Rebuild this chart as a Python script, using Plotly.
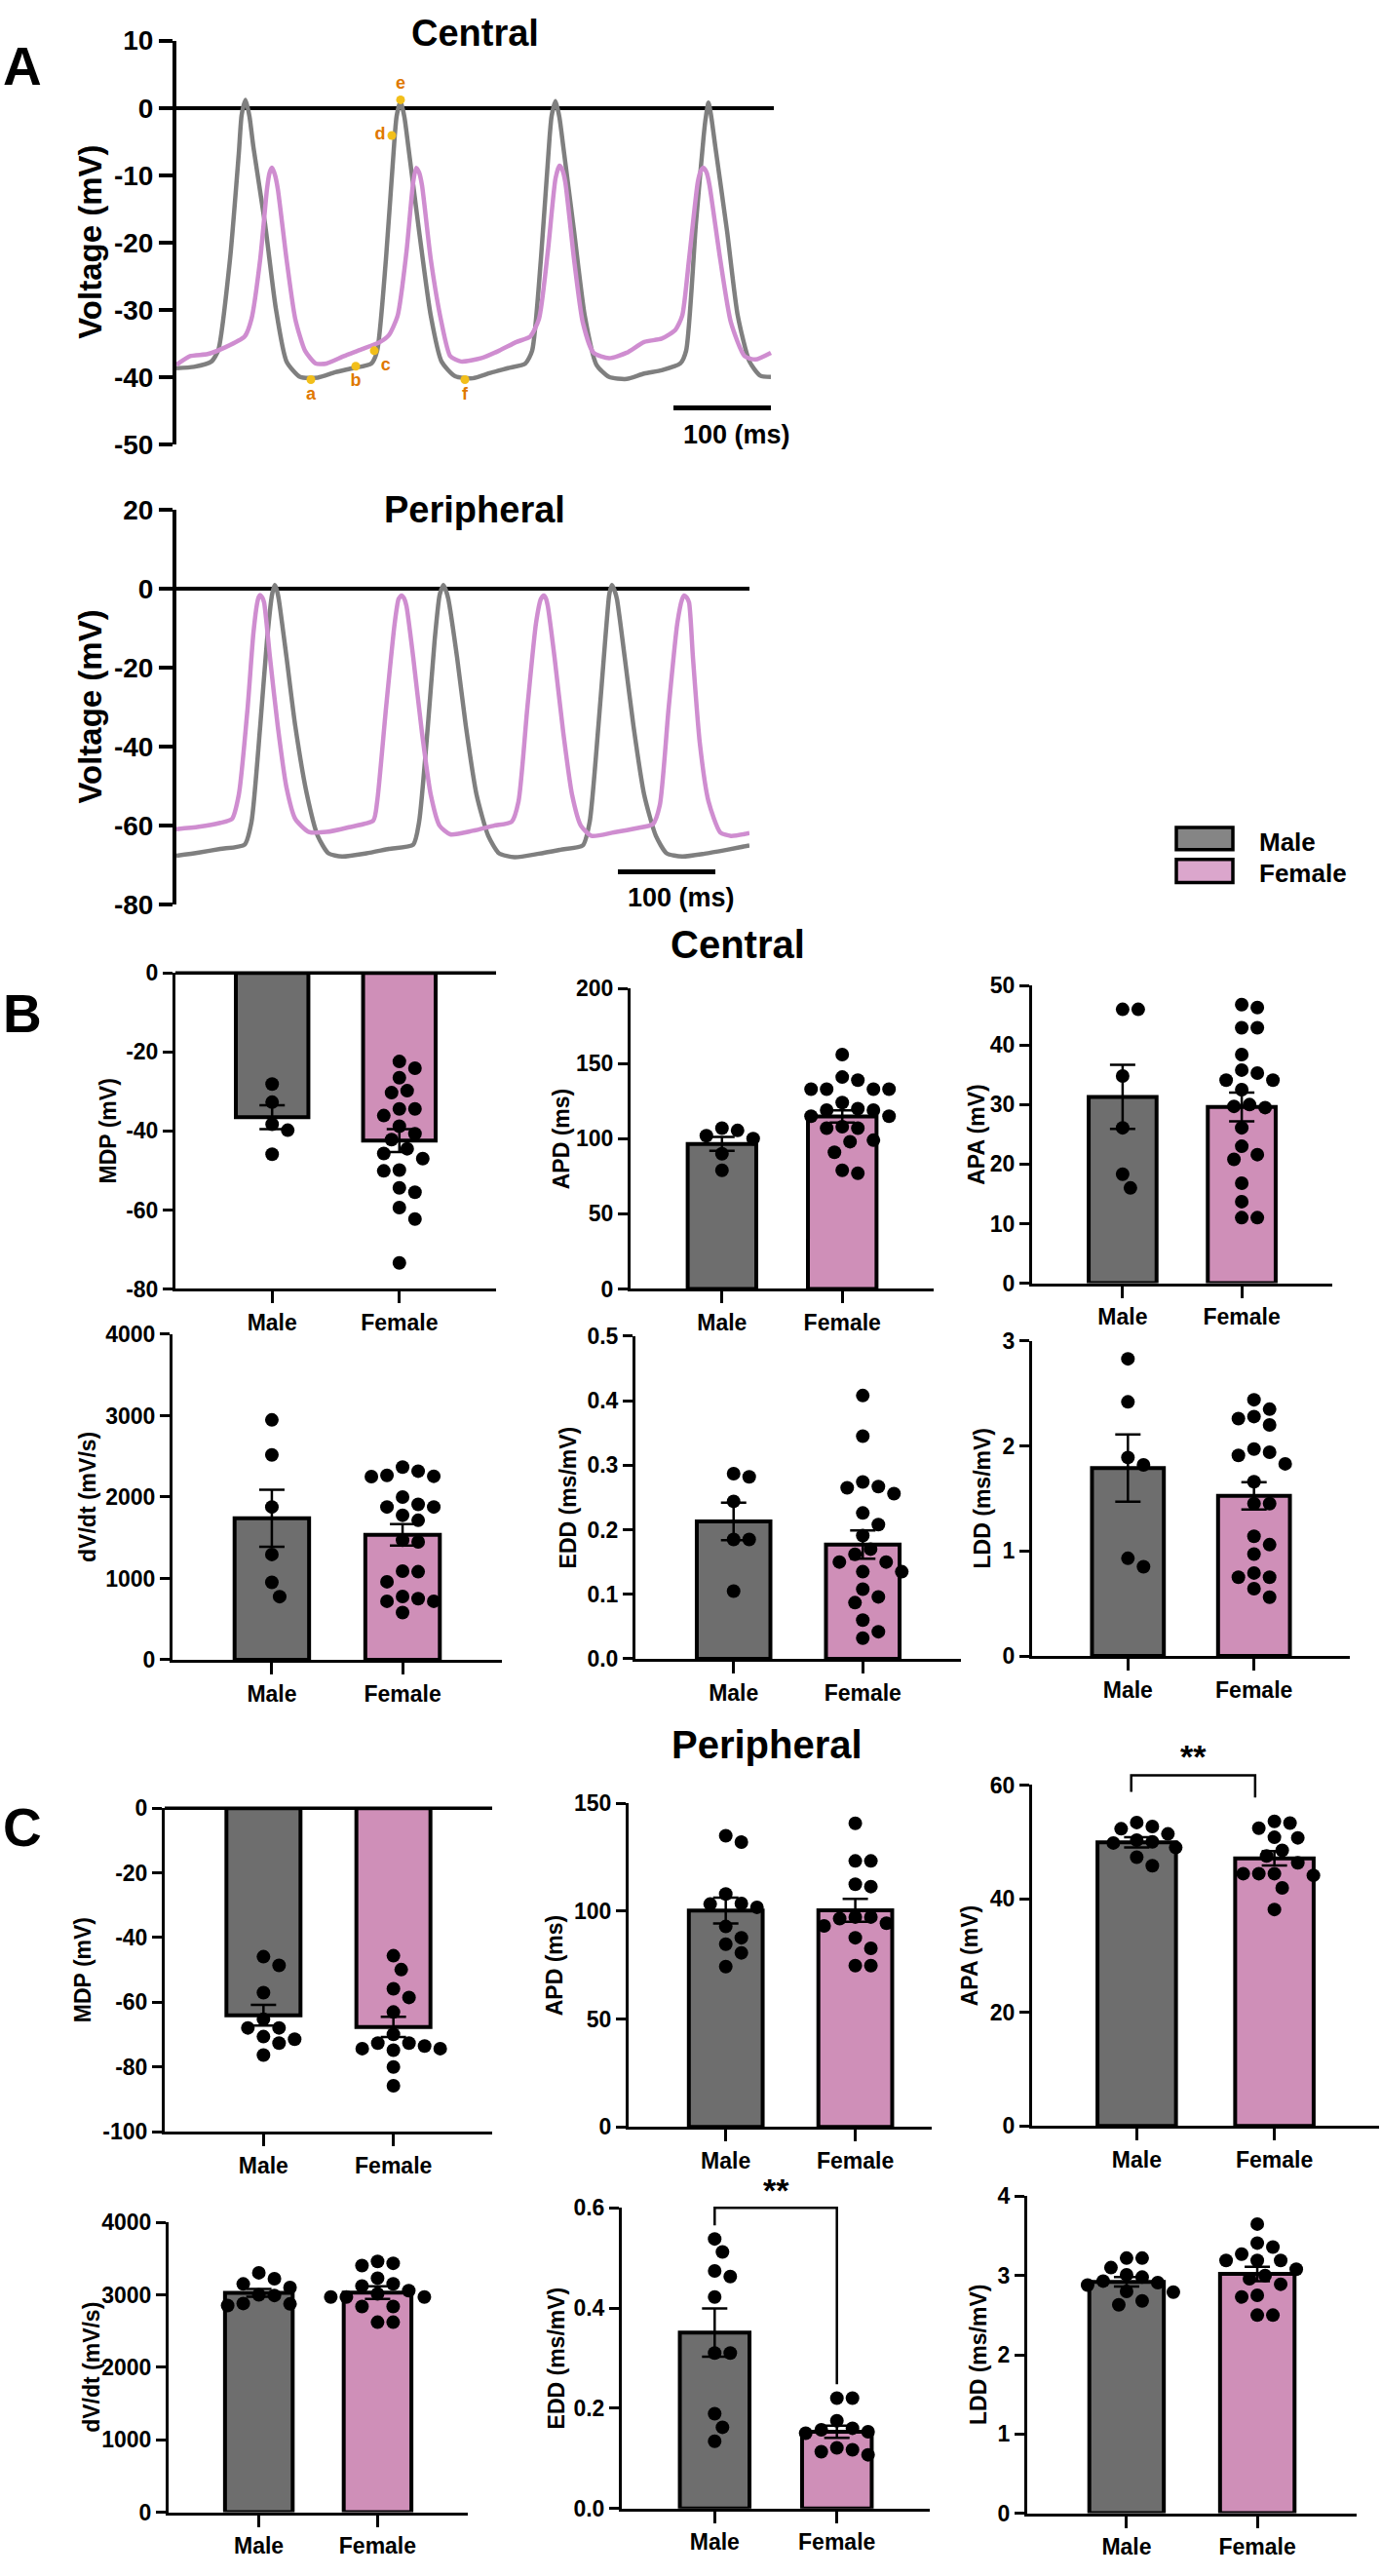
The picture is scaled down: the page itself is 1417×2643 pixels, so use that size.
import plotly.graph_objects as go

W, H = 1417, 2643
FONT = "Liberation Sans, Arial, Helvetica, sans-serif"

MALE_BAR = "#6e6e6e"
FEMALE_BAR = "#cf8fb8"
MALE_TRACE = "#7f7f7f"
FEMALE_TRACE = "#cf8dd0"
MARK_DOT = "#f2bf1b"
MARK_TEXT = "#e07800"

groups = ["Male", "Female"]

# ---- Panel A: representative action potentials (time in ms, voltage in mV) ----
central_male_t = [0, 18, 36, 43, 55, 64, 67, 71, 75, 79, 91, 102, 113, 127, 145, 163, 181, 200, 206, 215,
                  224, 226, 230, 234, 238, 249, 261, 272, 286, 304, 322, 340, 358, 365, 374, 383, 385, 389, 393, 397,
                  408, 419, 431, 444, 462, 480, 498, 517, 523, 533, 541, 543, 546, 549, 553, 565, 576, 588, 599, 610]
central_male_v = [-38.7, -38.5, -37.7, -36.0, -22.5, -6.8, -1.0, 1.2, -1.3, -5.8, -17.3, -29.8, -37.7, -40.0, -40.1,
                  -39.3, -38.7, -38.0, -36.1, -22.5, -4.2, -1.2, 1.0, -1.4, -5.8, -18.3, -30.9, -37.7, -39.9, -40.2,
                  -39.4, -38.7, -38.0, -36.1, -22.5, -4.2, -1.2, 1.0, -1.4, -5.8, -18.3, -30.9, -38.2, -40.0, -40.3,
                  -39.5, -39.0, -38.0, -36.1, -17.3, -4.2, -1.6, 0.8, -1.5, -5.8, -18.3, -30.9, -37.7, -39.8, -40.0]
central_female_t = [0, 14, 32, 50, 70, 77, 86, 93, 95.5, 98, 101, 104, 113, 122, 132, 143, 154, 172, 190, 209,
                    218, 227, 236, 243, 246, 249, 252, 261, 272, 281, 292, 313, 331, 349, 363, 372, 381, 389, 393, 396,
                    399, 408, 417, 428, 444, 462, 480, 498, 512, 519, 526, 535, 538, 541, 544, 547, 558, 569, 583, 594,
                    610]
central_female_v = [-38.2, -36.9, -36.6, -35.6, -34.0, -31.4, -22.5, -12.0, -9.7, -8.9, -9.9, -12.0, -22.5, -31.4,
                    -36.1, -38.0, -38.0, -36.9, -35.9, -34.8, -33.8, -30.9, -21.5, -11.0, -8.9, -9.6, -11.5, -22.5,
                    -31.9, -36.9, -37.7, -37.2, -36.1, -34.8, -34.0, -31.4, -21.5, -10.5, -8.6, -9.2, -11.0, -22.5,
                    -31.9, -36.4, -37.2, -36.4, -34.8, -34.3, -33.0, -30.9, -22.5, -11.0, -9.4, -8.9, -9.6, -11.5,
                    -22.5, -31.9, -36.9, -37.4, -36.4]

peripheral_male_t = [0, 23, 45, 70, 77, 86, 93, 98, 99.5, 101, 103, 105, 113, 122, 134, 145, 156, 170, 195, 218,
                     243, 249, 258, 265, 270, 272, 274, 276.5, 279, 288, 297, 308, 320, 331, 347, 372, 394, 417, 424,
                     433, 440, 444, 445.5, 447, 449.5, 452, 460, 469, 480, 492, 503, 519, 542, 565, 588]
peripheral_male_v = [-67.6, -66.8, -65.9, -64.8, -59.1, -34.8, -13.0, -1.7, -0.1, 0.9, -0.3, -2.6, -17.4, -34.8,
                     -52.2, -62.6, -67.0, -67.8, -67.0, -65.9, -64.8, -59.1, -34.8, -13.0, -1.7, -0.1, 0.9, -0.4,
                     -2.6, -17.4, -34.8, -52.2, -62.6, -67.0, -68.0, -67.1, -66.1, -65.0, -59.1, -34.8, -13.0, -1.7,
                     0.0, 0.9, -0.4, -2.6, -17.4, -34.8, -52.2, -62.6, -67.0, -67.8, -67.1, -66.1, -65.0]
peripheral_female_t = [0, 23, 45, 57, 64, 73, 79, 83, 84.5, 86, 88, 90, 96, 104, 113, 122, 136, 154, 177, 202,
                       206, 215, 224, 228, 231, 233.5, 236, 243, 252, 261, 270, 281, 304, 326, 344, 351, 360, 369, 374,
                       377, 379, 381, 388, 397, 406, 415, 426, 449, 471, 489, 496, 505, 514, 519, 521, 523.5, 526, 530,
                       537, 546, 558, 569, 588]
peripheral_female_v = [-60.9, -60.3, -59.3, -58.3, -52.2, -30.4, -11.3, -3.5, -2.1, -1.6, -2.2, -3.5, -17.4, -34.8,
                       -50.4, -58.3, -61.6, -61.6, -60.4, -58.7, -53.9, -30.4, -8.7, -2.6, -1.7, -2.4, -4.3, -17.4,
                       -36.5, -52.2, -60.0, -62.2, -61.3, -60.0, -59.0, -53.9, -30.4, -8.7, -2.6, -1.7, -2.4, -4.3,
                       -17.4, -36.5, -52.2, -60.0, -62.6, -61.7, -60.7, -59.6, -54.8, -30.4, -8.7, -2.6, -1.7, -2.2,
                       -3.5, -17.4, -39.0, -53.9, -61.7, -62.6, -61.9]

# labelled points on the central male trace
mark_labels = ["a", "b", "c", "d", "e", "f"]
mark_t = [138, 184, 203, 221, 230, 296]
mark_v = [-40.4, -38.4, -36.1, -4.1, 1.2, -40.4]
mark_pos = ["bottom center", "bottom center", "bottom right", "middle left", "top center", "bottom center"]

# ---- Panel B: central ----
b_mdp_male = [-28.1, -32.7, -38.3, -39.8, -45.9]
b_mdp_female = [-22.4, -24.1, -26.5, -29.8, -30.3, -34.4, -34.4, -36.1, -38.8, -40.7, -42.2, -44.5, -45.7, -47.0,
                -49.9, -50.1, -54.4, -55.5, -59.4, -62.3, -73.4]
b_mdp_mean = [-36.5, -42.4]
b_mdp_sem = [3.0, 2.9]

b_apd_male = [102, 107, 100, 105.5, 90, 79]
b_apd_female = [156, 141, 139, 133, 133, 133, 133, 124, 120, 119, 119, 115, 115, 108, 107, 107, 99, 98, 91, 79, 77]
b_apd_mean = [96.5, 114.8]
b_apd_sem = [4.6, 4.1]

b_apa_male = [46.0, 46.0, 34.8, 26.1, 18.3, 16.0]
b_apa_female = [46.3, 46.8, 42.9, 42.9, 38.4, 35.3, 35.8, 34.1, 34.1, 32.5, 30.0, 29.7, 29.5, 26.1, 23.0, 21.6, 20.8,
                16.8, 13.7, 11.0, 11.0]
b_apa_mean = [31.3, 29.6]
b_apa_sem = [5.4, 2.4]

b_dvdt_male = [2947, 2518, 1878, 1294, 951, 776]
b_dvdt_female = [2367, 2318, 2265, 2255, 2250, 2000, 1910, 1878, 1878, 1776, 1714, 1469, 1449, 1090, 1082, 959, 778,
                 751, 719, 719, 581]
b_dvdt_mean = [1740, 1535]
b_dvdt_sem = [350, 132]

b_edd_male = [0.282, 0.287, 0.244, 0.185, 0.185, 0.105]
b_edd_female = [0.408, 0.345, 0.274, 0.267, 0.265, 0.256, 0.226, 0.208, 0.191, 0.170, 0.162, 0.150, 0.150, 0.135,
                0.135, 0.108, 0.096, 0.087, 0.060, 0.042, 0.032]
b_edd_mean = [0.213, 0.177]
b_edd_sem = [0.029, 0.022]

b_ldd_male = [2.83, 2.42, 1.82, 1.89, 0.93, 0.85]
b_ldd_female = [2.44, 2.35, 2.28, 2.26, 2.20, 1.97, 1.94, 1.91, 1.83, 1.66, 1.45, 1.45, 1.14, 1.06, 0.97, 0.79, 0.75,
                0.75, 0.64, 0.56]
b_ldd_mean = [1.79, 1.525]
b_ldd_sem = [0.32, 0.13]

# ---- Panel C: peripheral ----
c_mdp_male = [-45.9, -48.6, -57.0, -65.2, -67.9, -67.9, -70.6, -72.6, -71.4, -76.3]
c_mdp_female = [-45.6, -49.9, -55.8, -58.5, -63.0, -69.9, -72.6, -72.6, -73.5, -74.8, -74.3, -74.3, -80.0, -85.8]
c_mdp_mean = [-64.0, -67.6]
c_mdp_sem = [3.2, 3.15]

c_apd_male = [132, 135, 108, 103.3, 103.6, 101.8, 92.9, 87.7, 84.7, 80.7, 74.3]
c_apd_female = [140.7, 123.3, 123.3, 111.4, 112.5, 97.3, 97.3, 94.4, 93.2, 96.6, 87.7, 82.8, 74.8, 74.8]
c_apd_mean = [100.3, 100.4]
c_apd_sem = [6.0, 5.3]

c_apa_male = [51.4, 52.3, 53.4, 52.7, 50.3, 50.0, 49.8, 49.0, 47.3, 45.8]
c_apa_female = [52.4, 53.6, 53.3, 50.7, 50.8, 48.5, 47.5, 46.3, 44.4, 44.4, 44.4, 44.1, 41.9, 38.1]
c_apa_mean = [49.9, 47.1]
c_apa_sem = [0.9, 1.25]

c_dvdt_male = [3304, 3222, 3150, 3100, 3000, 2991, 2880, 2874, 2852]
c_dvdt_female = [3404, 3435, 3461, 3230, 3122, 3152, 3057, 3013, 2970, 2970, 2970, 2839, 2839, 2622, 2622]
c_dvdt_mean = [3026, 3030]
c_dvdt_sem = [54, 87]

c_edd_male = [0.538, 0.512, 0.463, 0.474, 0.422, 0.310, 0.310, 0.189, 0.162, 0.134]
c_edd_female = [0.220, 0.220, 0.175, 0.160, 0.157, 0.153, 0.150, 0.121, 0.117, 0.113, 0.107]
c_edd_mean = [0.351, 0.153]
c_edd_sem = [0.048, 0.012]

c_ldd_male = [3.22, 3.22, 3.10, 3.01, 2.98, 2.93, 2.91, 2.88, 2.79, 2.80, 2.68, 2.63]
c_ldd_female = [3.65, 3.41, 3.36, 3.27, 3.19, 3.19, 3.19, 3.08, 3.00, 2.96, 2.89, 2.75, 2.73, 2.50, 2.50]
c_ldd_mean = [2.92, 3.02]
c_ldd_sem = [0.06, 0.09]

# significance brackets: (chart, left x, right x, bar level, left foot, right foot, label height)
sig_brackets = [
    ("c_apa", -0.04, 0.86, 61.7, 58.8, 57.8, 65.0),
    ("c_edd", 0.0, 1.0, 0.600, 0.565, 0.248, 0.635),
]

# chart frames in page pixels
charts = [
    dict(key="b_mdp", title="MDP (mV)", male=b_mdp_male, female=b_mdp_female, mean=b_mdp_mean, sem=b_mdp_sem,
         yr=[-80, 0], tv=[-80, -60, -40, -20, 0], px=(180, 509), py=(995, 1323), tx=111),
    dict(key="b_apd", title="APD (ms)", male=b_apd_male, female=b_apd_female, mean=b_apd_mean, sem=b_apd_sem,
         yr=[0, 200], tv=[0, 50, 100, 150, 200], px=(647, 958), py=(1011, 1323), tx=576),
    dict(key="b_apa", title="APA (mV)", male=b_apa_male, female=b_apa_female, mean=b_apa_mean, sem=b_apa_sem,
         yr=[0, 50], tv=[0, 10, 20, 30, 40, 50], px=(1059, 1367), py=(1008, 1317), tx=1002),
    dict(key="b_dvdt", title="dV/dt (mV/s)", male=b_dvdt_male, female=b_dvdt_female, mean=b_dvdt_mean,
         sem=b_dvdt_sem, yr=[0, 4000], tv=[0, 1000, 2000, 3000, 4000], px=(177, 515), py=(1370, 1708), tx=90),
    dict(key="b_edd", title="EDD (ms/mV)", male=b_edd_male, female=b_edd_female, mean=b_edd_mean, sem=b_edd_sem,
         yr=[0, 0.5], tv=[0, 0.1, 0.2, 0.3, 0.4, 0.5], fmt="{:.1f}", px=(652, 986), py=(1372, 1707), tx=583),
    dict(key="b_ldd", title="LDD (ms/mV)", male=b_ldd_male, female=b_ldd_female, mean=b_ldd_mean, sem=b_ldd_sem,
         yr=[0, 3], tv=[0, 1, 2, 3], px=(1059, 1385), py=(1377, 1704), tx=1008),
    dict(key="c_mdp", title="MDP (mV)", male=c_mdp_male, female=c_mdp_female, mean=c_mdp_mean, sem=c_mdp_sem,
         yr=[-100, 0], tv=[-100, -80, -60, -40, -20, 0], px=(169, 505), py=(1862, 2198), tx=85),
    dict(key="c_apd", title="APD (ms)", male=c_apd_male, female=c_apd_female, mean=c_apd_mean, sem=c_apd_sem,
         yr=[0, 150], tv=[0, 50, 100, 150], px=(645, 956), py=(1857, 2193), tx=569, xr=[-0.75, 1.59]),
    dict(key="c_apa", title="APA (mV)", male=c_apa_male, female=c_apa_female, mean=c_apa_mean, sem=c_apa_sem,
         yr=[0, 60], tv=[0, 20, 40, 60], px=(1059, 1415), py=(1838, 2192), tx=995),
    dict(key="c_dvdt", title="dV/dt (mV/s)", male=c_dvdt_male, female=c_dvdt_female, mean=c_dvdt_mean,
         sem=c_dvdt_sem, yr=[0, 4000], tv=[0, 1000, 2000, 3000, 4000], px=(173, 480), py=(2292, 2593), tx=94),
    dict(key="c_edd", title="EDD (ms/mV)", male=c_edd_male, female=c_edd_female, mean=c_edd_mean, sem=c_edd_sem,
         yr=[0, 0.6], tv=[0, 0.2, 0.4, 0.6], fmt="{:.1f}", px=(638, 954), py=(2277, 2589), tx=571),
    dict(key="c_ldd", title="LDD (ms/mV)", male=c_ldd_male, female=c_ldd_female, mean=c_ldd_mean, sem=c_ldd_sem,
         yr=[0, 4], tv=[0, 1, 2, 3, 4], px=(1054, 1392), py=(2265, 2594), tx=1004),
]


def fx(x):
    return x / W


def fy(y):
    return 1 - y / H


def bold(size, color="black"):
    return dict(family=FONT, size=size, color=color, weight="bold")


def label(text, x, y, size, ref=("paper", "paper"), angle=0, xanchor="center"):
    return dict(text=text, x=x, y=y, xref=ref[0], yref=ref[1], showarrow=False, textangle=angle,
                xanchor=xanchor, yanchor="middle", font=bold(size))


def fmt_ticks(vals, fmt="{:g}"):
    return [fmt.format(v) for v in vals]


def to_px(c, xv, yv):
    x0, x1 = c["px"]
    yt, yb = c["py"]
    xr = c.get("xr", [-0.76, 1.76])
    px = x0 + (xv - xr[0]) / (xr[1] - xr[0]) * (x1 - x0)
    py = yb - (yv - c["yr"][0]) / (c["yr"][1] - c["yr"][0]) * (yb - yt)
    return px, py


def swarm(vals, ppu_x, ppu_y, sp=16.0):
    # simple beeswarm: place points from the top, nearest free slot to the centre
    order = sorted(range(len(vals)), key=lambda k: -vals[k])
    steps = [0.0]
    for k in range(1, 12):
        steps += [k * sp * 0.5, -k * sp * 0.5]
    placed = []
    out = [0.0] * len(vals)
    for k in order:
        yp = vals[k] * ppu_y
        for s in steps:
            if all((s - a) ** 2 + (yp - b) ** 2 >= (0.98 * sp) ** 2 for a, b in placed):
                placed.append((s, yp))
                out[k] = s / ppu_x
                break
    return out


fig = go.Figure()
axes = {}
annotations = []
shapes = []

# ---- Panel A ----
trace_panels = [
    (1, "Central", central_male_t, central_male_v, central_female_t, central_female_v,
     (181, 794), (27, 446), [0, 613], [-50, 10], [-50, -40, -30, -20, -10, 0, 10], 19),
    (2, "Peripheral", peripheral_male_t, peripheral_male_v, peripheral_female_t, peripheral_female_v,
     (181, 769), (514, 924), [0, 588], [-80, 20], [-80, -60, -40, -20, 0, 20], 514),
]
for n, name, mt, mv, ft, fv, pxr, pyr, xr, yr, tv, title_y in trace_panels:
    sx = "" if n == 1 else str(n)
    axes["xaxis" + sx] = dict(domain=[fx(pxr[0]), fx(pxr[1])], range=xr, visible=False, anchor="y" + sx,
                             fixedrange=True)
    axes["yaxis" + sx] = dict(domain=[fy(pyr[1]), fy(pyr[0])], range=yr, tickvals=tv, ticktext=fmt_ticks(tv),
                             showline=True, linecolor="black", linewidth=4, ticks="outside", ticklen=14,
                             tickwidth=4, tickcolor="black", showgrid=False, zeroline=True,
                             zerolinecolor="black", zerolinewidth=4, tickfont=bold(28), anchor="x" + sx,
                             fixedrange=True)
    fig.add_trace(go.Scatter(x=mt, y=mv, mode="lines", xaxis="x" + sx, yaxis="y" + sx,
                             line=dict(color=MALE_TRACE, width=4.5, shape="spline", smoothing=0.6)))
    fig.add_trace(go.Scatter(x=ft, y=fv, mode="lines", xaxis="x" + sx, yaxis="y" + sx,
                             line=dict(color=FEMALE_TRACE, width=4.5, shape="spline", smoothing=0.6)))
    annotations.append(label(name, fx(487), fy(title_y), 38))
    annotations.append(label("Voltage (mV)", fx(93), fy((pyr[0] + pyr[1]) / 2), 33, angle=-90))

fig.add_trace(go.Scatter(x=mark_t, y=mark_v, mode="markers+text", text=mark_labels, textposition=mark_pos,
                         marker=dict(color=MARK_DOT, size=9), textfont=bold(18, MARK_TEXT), cliponaxis=False,
                         xaxis="x", yaxis="y"))

# scale bars (100 ms)
shapes.append(dict(type="line", xref="x", yref="y", x0=510, x1=610, y0=-44.6, y1=-44.6,
                   line=dict(color="black", width=5)))
annotations.append(label("100 (ms)", 575, -48.6, 27, ref=("x", "y")))
shapes.append(dict(type="line", xref="x2", yref="y2", x0=453, x1=553, y0=-71.7, y1=-71.7,
                   line=dict(color="black", width=5)))
annotations.append(label("100 (ms)", 518, -78.3, 27, ref=("x2", "y2")))

# legend
for name, fill, top, bot, ty in [("Male", "#858585", 844, 867, 859), ("Female", "#dba6cc", 877, 901, 891)]:
    shapes.append(dict(type="rect", xref="paper", yref="paper", x0=fx(1207), x1=fx(1265), y0=fy(bot), y1=fy(top),
                       fillcolor=fill, line=dict(color="black", width=3.5)))
    annotations.append(label(name, fx(1290), fy(ty), 26, xanchor="left"))

# panel letters and section titles
for letter, x, y in [("A", 23, 54), ("B", 23, 1037), ("C", 23, 1882)]:
    annotations.append(label(letter, fx(x), fy(y), 55))
annotations.append(label("Central", fx(757), fy(965), 40))
annotations.append(label("Peripheral", fx(787), fy(1796), 40))

# ---- Panels B and C: bar charts ----
for i, c in enumerate(charts):
    n = str(i + 3)
    xr = c.get("xr", [-0.76, 1.76])
    x0, x1 = c["px"]
    yt, yb = c["py"]
    axes["xaxis" + n] = dict(domain=[fx(x0), fx(x1)], range=xr, tickvals=[0, 1], ticktext=groups,
                             showline=True, linecolor="black", linewidth=3, ticks="outside", ticklen=12,
                             tickwidth=3, tickcolor="black", showgrid=False, zeroline=False,
                             tickfont=bold(23), anchor="y" + n, fixedrange=True)
    axes["yaxis" + n] = dict(domain=[fy(yb), fy(yt)], range=c["yr"], tickvals=c["tv"],
                             ticktext=fmt_ticks(c["tv"], c.get("fmt", "{:g}")), showline=True,
                             linecolor="black", linewidth=3, ticks="outside", ticklen=10, tickwidth=3,
                             tickcolor="black", showgrid=False, zeroline=False, tickfont=bold(23),
                             anchor="x" + n, fixedrange=True)
    fig.add_trace(go.Bar(x=[0, 1], y=c["mean"], width=0.57, xaxis="x" + n, yaxis="y" + n,
                         marker=dict(color=[MALE_BAR, FEMALE_BAR], line=dict(color="black", width=4)),
                         error_y=dict(type="data", array=c["sem"], color="black", thickness=2.5, width=13)))
    ppu_x = (x1 - x0) / (xr[1] - xr[0])
    ppu_y = (yb - yt) / (c["yr"][1] - c["yr"][0])
    for gi, vals in enumerate([c["male"], c["female"]]):
        offs = swarm(vals, ppu_x, ppu_y)
        fig.add_trace(go.Scatter(x=[gi + o for o in offs], y=vals, mode="markers", xaxis="x" + n, yaxis="y" + n,
                                 marker=dict(color="black", size=14), cliponaxis=False))
    if c["yr"][1] == 0:
        # top line at zero for the negative (MDP) charts
        shapes.append(dict(type="line", xref="paper", yref="paper", x0=fx(x0), x1=fx(x1), y0=fy(yt), y1=fy(yt),
                           line=dict(color="black", width=3.5)))
    annotations.append(label(c["title"], fx(c["tx"]), fy((yt + yb) / 2), 23, angle=-90))

# significance brackets
by_key = {c["key"]: c for c in charts}
for key, xl, xrr, level, foot_l, foot_r, star_y in sig_brackets:
    c = by_key[key]
    lx, ly = to_px(c, xl, foot_l)
    _, top = to_px(c, xl, level)
    rx, ry = to_px(c, xrr, foot_r)
    path = "M {} {} L {} {} L {} {} L {} {}".format(fx(lx), fy(ly), fx(lx), fy(top), fx(rx), fy(top), fx(rx), fy(ry))
    shapes.append(dict(type="path", xref="paper", yref="paper", path=path, line=dict(color="black", width=2.5)))
    sx, sy = to_px(c, (xl + xrr) / 2, star_y)
    annotations.append(label("**", fx(sx), fy(sy), 34))

fig.update_layout(width=W, height=H, margin=dict(l=0, r=0, t=0, b=0), paper_bgcolor="white",
                  plot_bgcolor="rgba(0,0,0,0)", showlegend=False, barmode="overlay",
                  annotations=annotations, shapes=shapes, **axes)

fig.write_html("out.html", config={"displayModeBar": False},
               post_script="document.body.style.margin='0';")
